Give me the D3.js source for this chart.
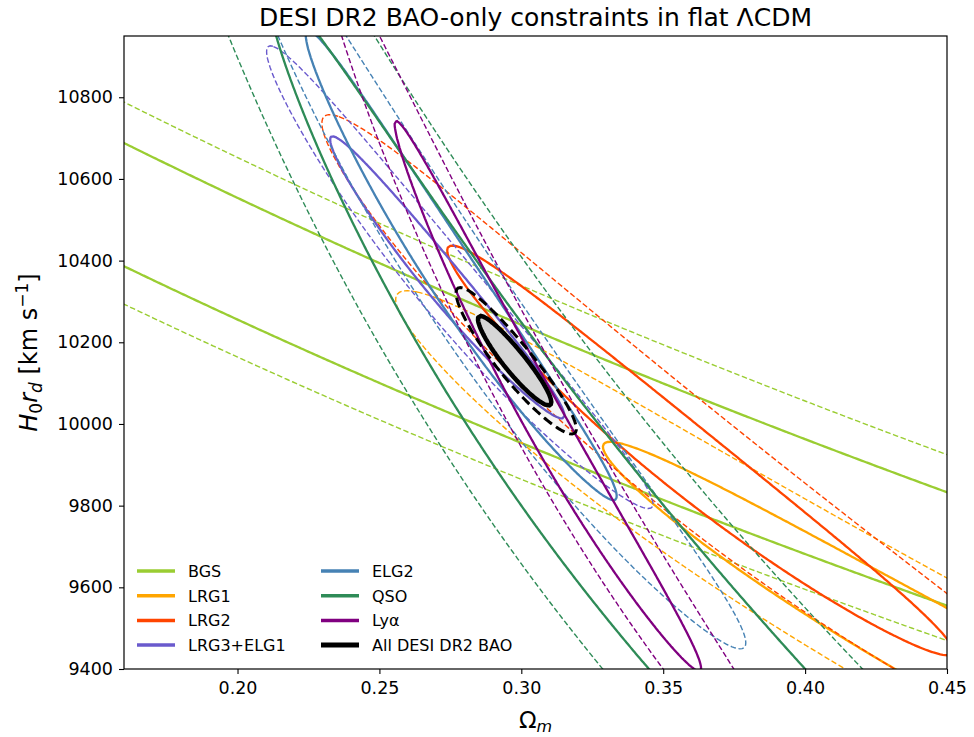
<!DOCTYPE html>
<html>
<head>
<meta charset="utf-8">
<script src="https://cdn.jsdelivr.net/npm/d3@7"></script>
<style>
    body { margin: 0; background: #fff; }
    svg { font-family: "DejaVu Sans", sans-serif; }
</style>
</head>
<body>
<div id="chart"></div>
<script>

// DESI DR2 BAO measurements, one entry per tracer
var tracers = ["BGS", "LRG1", "LRG2", "LRG3+ELG1", "ELG2", "QSO", "Lyα"];
var zEff   = [0.295, 0.510, 0.706, 0.934, 1.321, 1.484, 2.330];
var dvRd   = [7.942, null, null, null, null, null, null];
var dvErr  = [0.075, null, null, null, null, null, null];
var dmRd   = [null, 13.588, 17.351, 21.576, 27.601, 30.512, 38.988];
var dmErr  = [null, 0.167, 0.177, 0.152, 0.318, 0.760, 0.531];
var dhRd   = [null, 21.863, 19.455, 17.641, 14.176, 12.817, 8.632];
var dhErr  = [null, 0.425, 0.330, 0.193, 0.221, 0.516, 0.101];
var corrMH = [null, -0.459, -0.404, -0.416, -0.434, -0.500, -0.431];

var colors = ["#9acd32", "#ffa500", "#ff4500", "#6a5acd", "#4682b4", "#2e8b57", "#800080"];

var combinedLabel = "All DESI DR2 BAO";
var levels = [6.18, 2.30];   // delta chi2 for 95% and 68% (2 params)

var xTicks = [0.20, 0.25, 0.30, 0.35, 0.40, 0.45];
var yTicks = [9400, 9600, 9800, 10000, 10200, 10400, 10600, 10800];

var C_KMS = 299792.458;

// ---------------------------------------------------------------
var margin = {top: 36, left: 124},
    width = 823,
    height = 633;

var svg = d3.select("#chart")
    .append("svg")
    .attr("width", 974)
    .attr("height", 737);

var g = svg.append("g")
    .attr("transform", "translate(" + margin.left + "," + margin.top + ")");

var x = d3.scaleLinear().domain([0.16, 0.45]).range([0, width]);
var y = d3.scaleLinear().domain([9400, 10950]).range([height, 0]);

// grid, a bit larger than the axes so contours close outside the clip
var nx = 560, ny = 560;
var omLo = 0.08, omHi = 0.58, hrLo = 8600, hrHi = 11800;
var dOm = (omHi - omLo) / (nx - 1),
    dHr = (hrHi - hrLo) / (ny - 1);

function E(om, z) {
    return Math.sqrt(om * Math.pow(1 + z, 3) + 1 - om);
}
function comoving(om, z) {
    var n = 120, h = z / n, s = 1 / E(om, 0) + 1 / E(om, z);
    for (var k = 1; k < n; k++) s += (k % 2 ? 4 : 2) / E(om, k * h);
    return s * h / 3;
}

var chi = tracers.map(function () { return new Float64Array(nx * ny); });
var chiAll = new Float64Array(nx * ny);

for (var i = 0; i < nx; i++) {
    var om = omLo + i * dOm;
    var ints = zEff.map(function (z) { return comoving(om, z); });
    var es = zEff.map(function (z) { return E(om, z); });
    for (var j = 0; j < ny; j++) {
        var f = C_KMS / (hrLo + j * dHr);
        var idx = j * nx + i;
        var tot = 0;
        tracers.forEach(function (t, k) {
            var DM = f * ints[k], DH = f / es[k], c2;
            if (dvRd[k] !== null) {
                var DV = Math.cbrt(zEff[k] * DM * DM * DH);
                c2 = Math.pow((DV - dvRd[k]) / dvErr[k], 2);
            } else {
                var a = (DM - dmRd[k]) / dmErr[k],
                    b = (DH - dhRd[k]) / dhErr[k],
                    r = corrMH[k];
                c2 = (a * a - 2 * r * a * b + b * b) / (1 - r * r);
            }
            chi[k][idx] = c2;
            tot += c2;
        });
        chiAll[idx] = tot;
    }
}

function contourSet(arr) {
    var mn = d3.min(arr);
    var vals = Array.from(arr, function (v) { return -(v - mn); });
    return d3.contours()
        .size([nx, ny])
        .thresholds(levels.map(function (l) { return -l; }))(vals);
}

var proj = d3.geoTransform({
    point: function (px, py) {
        this.stream.point(x(omLo + (px - 0.5) * dOm), y(hrLo + (py - 0.5) * dHr));
    }
});
var path = d3.geoPath(proj);

svg.append("defs").append("clipPath")
    .attr("id", "plot-clip")
    .append("rect")
    .attr("width", width)
    .attr("height", height);

var plot = g.append("g").attr("clip-path", "url(#plot-clip)");

tracers.forEach(function (t, k) {
    var cs = contourSet(chi[k]);
    plot.append("path")
        .attr("d", path(cs[0]))
        .attr("fill", "none")
        .attr("stroke", colors[k])
        .attr("stroke-width", 1.4)
        .attr("stroke-dasharray", "5.5,2.6");
    plot.append("path")
        .attr("d", path(cs[1]))
        .attr("fill", "none")
        .attr("stroke", colors[k])
        .attr("stroke-width", 2.3);
});

var all = contourSet(chiAll);
plot.append("path")
    .attr("d", path(all[0]))
    .attr("fill", "#000")
    .attr("fill-opacity", 0.04)
    .attr("stroke", "#000")
    .attr("stroke-width", 3)
    .attr("stroke-dasharray", "10,5");
plot.append("path")
    .attr("d", path(all[1]))
    .attr("fill", "#d6d6d6")
    .attr("stroke", "#000")
    .attr("stroke-width", 4.5);

// axes
var xAxis = d3.axisBottom(x)
    .tickValues(xTicks)
    .tickSize(5)
    .tickPadding(8)
    .tickFormat(d3.format(".2f"));

var yAxis = d3.axisLeft(y)
    .tickValues(yTicks)
    .tickSize(5)
    .tickPadding(6)
    .tickFormat(d3.format("d"));

g.append("g")
    .attr("class", "x axis")
    .attr("transform", "translate(0," + height + ")")
    .call(xAxis);

g.append("g")
    .attr("class", "y axis")
    .call(yAxis);

g.selectAll(".axis path.domain").remove();
g.selectAll(".axis text")
    .style("font-size", "17.5px")
    .style("font-family", "DejaVu Sans")
    .attr("fill", "#000");
g.selectAll(".axis line").attr("stroke", "#000").attr("stroke-width", 1.1);

g.append("rect")
    .attr("width", width)
    .attr("height", height)
    .attr("fill", "none")
    .attr("stroke", "#000")
    .attr("stroke-width", 1.2);

// title and labels
svg.append("text")
    .attr("x", margin.left + width / 2)
    .attr("y", 26)
    .attr("text-anchor", "middle")
    .style("font-size", "25px")
    .text("DESI DR2 BAO-only constraints in flat ΛCDM");

var xl = svg.append("text")
    .attr("x", margin.left + width / 2)
    .attr("y", 728)
    .attr("text-anchor", "middle")
    .style("font-size", "23px");
xl.append("tspan").text("Ω");
xl.append("tspan").attr("font-style", "italic").attr("font-size", "16px")
    .attr("baseline-shift", "-4px").text("m");

var yl = svg.append("text")
    .attr("transform", "translate(37," + (margin.top + height / 2) + ") rotate(-90)")
    .attr("text-anchor", "middle")
    .style("font-size", "24px");
yl.append("tspan").attr("font-style", "italic").text("H");
yl.append("tspan").attr("font-size", "17px").attr("baseline-shift", "-5px").text("0");
yl.append("tspan").attr("font-style", "italic").text("r");
yl.append("tspan").attr("font-style", "italic").attr("font-size", "17px")
    .attr("baseline-shift", "-5px").text("d");
yl.append("tspan").text(" [km s");
yl.append("tspan").attr("font-size", "17px").attr("baseline-shift", "9px").text("−1");
yl.append("tspan").text("]");

// legend
var legendItems = tracers.map(function (t, k) {
    return {label: t, color: colors[k], w: 3.5};
});
legendItems.push({label: combinedLabel, color: "#000", w: 5});

var legend = g.append("g").attr("class", "legend");
legendItems.forEach(function (d, k) {
    var col = Math.floor(k / 4), row = k % 4;
    var lx = 13 + col * 184, ly = 535 + row * 24.7;
    legend.append("line")
        .attr("x1", lx).attr("x2", lx + 38)
        .attr("y1", ly).attr("y2", ly)
        .attr("stroke", d.color)
        .attr("stroke-width", d.w);
    legend.append("text")
        .attr("x", lx + 51)
        .attr("y", ly + 6)
        .style("font-size", "16px")
        .text(d.label);
});

</script>
</body>
</html>
